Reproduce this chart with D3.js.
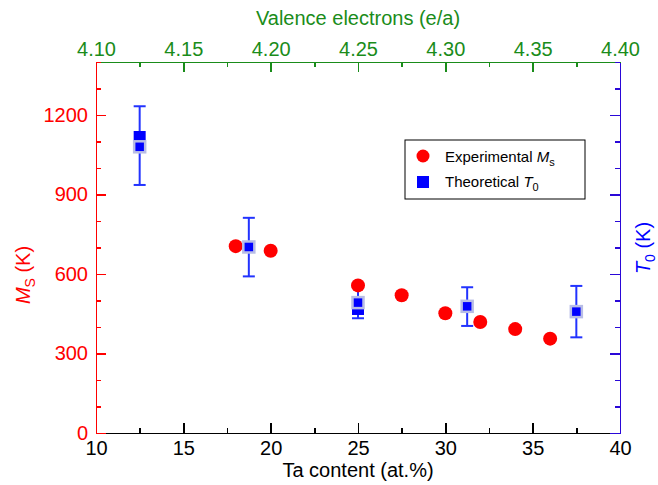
<!doctype html>
<html lang="en">
<head>
    <meta charset="utf-8">
    <title>Ms and T0 vs Ta content</title>
    <script src="https://cdnjs.cloudflare.com/ajax/libs/d3/7.8.5/d3.min.js"></script>
    <style>
        body { margin: 0; background: #fff; }
        svg text { font-family: "Liberation Sans", Arial, sans-serif; }
        .axis path, .axis line { shape-rendering: crispEdges; }
    </style>
</head>
<body>
    <div id="chart"></div>
    <script>
        // Experimental Ms (red circles)
        var msTa = [18, 20, 25, 27.5, 30, 32, 34, 36];
        var msVals = [705, 688, 557, 520, 452, 419, 392, 356];

        // Theoretical T0 (blue squares with error bars)
        var t0Ta = [12.5, 18.75, 25, 31.25, 37.5];
        var t0Vals = [1080, 702, 492, 478, 458];
        var t0Hi = [1233, 812, 558, 550, 555];
        var t0Lo = [936, 591, 433, 404, 361];

        // second (solid) T0 markers seen at two compositions
        var t0AltTa = [12.5, 25];
        var t0AltVals = [1117, 468];

        var xTicks = [10, 15, 20, 25, 30, 35, 40];
        var topTicks = [4.10, 4.15, 4.20, 4.25, 4.30, 4.35, 4.40];
        var yTicks = [0, 300, 600, 900, 1200];

        var chartW = 658, chartH = 485;
        var plotL = 96, plotR = 620, plotT = 62, plotB = 433;

        var red = "#ff0000", blue = "#0000ff", green = "#1a8c1a", rightBlue = "#2a08d8";

        var x = d3.scaleLinear().domain([10, 40]).range([plotL, plotR]);
        var xTop = d3.scaleLinear().domain([4.10, 4.40]).range([plotL, plotR]);
        var y = d3.scaleLinear().domain([0, 1400]).range([plotB, plotT]);

        var svg = d3.select("#chart").append("svg")
            .attr("width", chartW)
            .attr("height", chartH);

        var steps = function (a, b, s) { return d3.range(a, b + 1e-9, s); };

        // draws minor + major ticks in separate groups so the second call doesn't wipe the first
        function drawAxis(axisFn, scale, pos, minor, major, fmt, color, pad) {
            var g = svg.append("g").attr("class", "axis").attr("transform", pos);
            g.append("g").call(axisFn(scale).tickValues(minor).tickSize(-5).tickSizeOuter(0).tickFormat(""));
            g.append("g").call(axisFn(scale).tickValues(major).tickSize(-10).tickSizeOuter(0).tickPadding(pad).tickFormat(fmt));
            g.selectAll("path, line").attr("stroke", color).attr("stroke-width", 1.5);
            g.selectAll("text").attr("font-size", 20).attr("fill", color);
            return g;
        }

        drawAxis(d3.axisBottom, x, "translate(0," + plotB + ")", steps(10, 40, 2.5), xTicks, d3.format("d"), "#000", 8);
        drawAxis(d3.axisTop, xTop, "translate(0," + plotT + ")", steps(4.10, 4.40, 0.025), topTicks, d3.format(".2f"), green, 6);
        drawAxis(d3.axisLeft, y, "translate(" + plotL + ",0)", steps(0, 1400, 100), yTicks, d3.format("d"), red, 8);
        drawAxis(d3.axisRight, y, "translate(" + plotR + ",0)", steps(0, 1400, 100), yTicks, function () { return ""; }, rightBlue, 8);

        // axis titles
        svg.append("text")
            .attr("x", (plotL + plotR) / 2).attr("y", 477)
            .attr("text-anchor", "middle").attr("font-size", 20).attr("fill", "#000")
            .text("Ta content (at.%)");

        svg.append("text")
            .attr("x", (plotL + plotR) / 2).attr("y", 25)
            .attr("text-anchor", "middle").attr("font-size", 20).attr("fill", green)
            .text("Valence electrons (e/a)");

        var lt = svg.append("text")
            .attr("transform", "translate(30,275) rotate(-90)")
            .attr("text-anchor", "middle").attr("font-size", 20).attr("fill", red);
        lt.append("tspan").attr("font-style", "italic").text("M");
        lt.append("tspan").attr("font-size", 14).attr("dy", 5).text("S");
        lt.append("tspan").attr("dy", -5).text(" (K)");

        var rt = svg.append("text")
            .attr("transform", "translate(650,248) rotate(-90)")
            .attr("text-anchor", "middle").attr("font-size", 20).attr("fill", blue);
        rt.append("tspan").attr("font-style", "italic").text("T");
        rt.append("tspan").attr("font-size", 14).attr("dy", 5).text("0");
        rt.append("tspan").attr("dy", -5).text(" (K)");

        // T0 error bars
        var eb = svg.append("g").attr("stroke", "#2233ff").attr("stroke-width", 2);
        eb.selectAll("line.v").data(t0Ta).enter().append("line")
            .attr("x1", function (v) { return x(v); }).attr("x2", function (v) { return x(v); })
            .attr("y1", function (v, i) { return y(t0Hi[i]); })
            .attr("y2", function (v, i) { return y(t0Lo[i]); });
        eb.selectAll("line.hi").data(t0Ta).enter().append("line")
            .attr("x1", function (v) { return x(v) - 6; }).attr("x2", function (v) { return x(v) + 6; })
            .attr("y1", function (v, i) { return y(t0Hi[i]); })
            .attr("y2", function (v, i) { return y(t0Hi[i]); });
        eb.selectAll("line.lo").data(t0Ta).enter().append("line")
            .attr("x1", function (v) { return x(v) - 6; }).attr("x2", function (v) { return x(v) + 6; })
            .attr("y1", function (v, i) { return y(t0Lo[i]); })
            .attr("y2", function (v, i) { return y(t0Lo[i]); });

        // Ms circles
        svg.append("g").selectAll("circle").data(msTa).enter().append("circle")
            .attr("cx", function (v) { return x(v); })
            .attr("cy", function (v, i) { return y(msVals[i]); })
            .attr("r", 7)
            .attr("fill", red);

        // solid T0 markers
        svg.append("g").selectAll("rect").data(t0AltTa).enter().append("rect")
            .attr("x", function (v) { return x(v) - 6; })
            .attr("y", function (v, i) { return y(t0AltVals[i]) - 6; })
            .attr("width", 12).attr("height", 12)
            .attr("fill", blue);

        // bordered T0 markers
        svg.append("g").selectAll("rect").data(t0Ta).enter().append("rect")
            .attr("x", function (v) { return x(v) - 5.5; })
            .attr("y", function (v, i) { return y(t0Vals[i]) - 5.5; })
            .attr("width", 11).attr("height", 11)
            .attr("fill", blue)
            .attr("stroke", "#b8bde6").attr("stroke-width", 2.5);

        // legend
        var lg = svg.append("g");
        lg.append("rect")
            .attr("x", 405).attr("y", 140).attr("width", 180).attr("height", 59)
            .attr("fill", "#fff").attr("stroke", "#000").attr("stroke-width", 1);
        lg.append("circle").attr("cx", 423).attr("cy", 156).attr("r", 6.5).attr("fill", red);
        lg.append("rect").attr("x", 417).attr("y", 176).attr("width", 12).attr("height", 12).attr("fill", blue);

        var l1 = lg.append("text").attr("x", 445).attr("y", 162).attr("font-size", 15).attr("fill", "#000");
        l1.append("tspan").text("Experimental ");
        l1.append("tspan").attr("font-style", "italic").text("M");
        l1.append("tspan").attr("font-size", 11).attr("dy", 4).text("s");

        var l2 = lg.append("text").attr("x", 445).attr("y", 187).attr("font-size", 15).attr("fill", "#000");
        l2.append("tspan").text("Theoretical ");
        l2.append("tspan").attr("font-style", "italic").text("T");
        l2.append("tspan").attr("font-size", 11).attr("dy", 4).text("0");
    </script>
</body>
</html>
